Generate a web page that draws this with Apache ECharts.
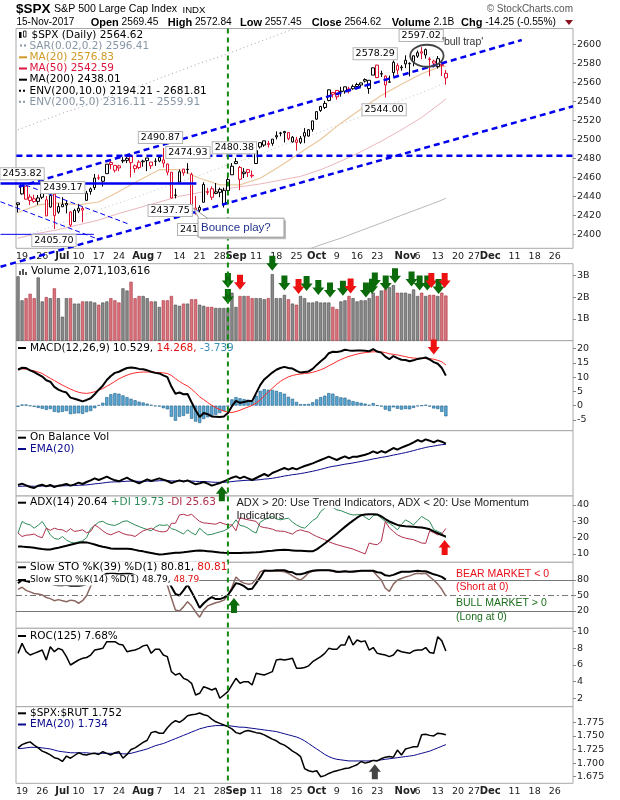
<!DOCTYPE html>
<html>
<head>
<meta charset="utf-8">
<script src="https://cdn.jsdelivr.net/npm/echarts@6/dist/echarts.min.js"></script>
<style>
html, body { margin: 0; padding: 0; background: #fff; }
#chart { width: 620px; height: 800px; }
</style>
</head>
<body>
<div id="chart"></div>
<script>
// trading days shown on the x axis (Jun 16 2017 .. Jan 2 2018)
var junDays = [16,19,20,21,22,23,26,27,28,29,30];
var julDays = [3,5,6,7,10,11,12,13,14,17,18,19,20,21,24,25,26,27,28,31];
var augDays = [1,2,3,4,7,8,9,10,11,14,15,16,17,18,21,22,23,24,25,28,29,30,31];
var sepDays = [1,5,6,7,8,11,12,13,14,15,18,19,20,21,22,25,26,27,28,29];
var octDays = [2,3,4,5,6,9,10,11,12,13,16,17,18,19,20,23,24,25,26,27,30,31];
var novDays = [1,2,3,6,7,8,9,10,13,14,15,16,17,20,21,22,24,27,28,29,30];
var decDays = [1,4,5,6,7,8,11,12,13,14,15,18,19,20,21,22,26,27,28,29];
var janDays = [2];

var tickDates = ['Jun 19','Jun 26','Jul 3','Jul 10','Jul 17','Jul 24','Aug 1','Aug 7','Aug 14','Aug 21','Aug 28','Sep 1','Sep 11','Sep 18','Sep 25','Oct 2','Oct 9','Oct 16','Oct 23','Nov 1','Nov 6','Nov 13','Nov 20','Nov 27','Dec 1','Dec 11','Dec 18','Dec 26'];
var tickTexts = ['19','26','Jul','10','17','24','Aug','7','14','21','28','Sep','11','18','25','Oct','9','16','23','Nov','6','13','20','27','Dec','11','18','26'];

// $SPX daily candles, Jun 16 .. Nov 15
var opens = [2431.24,2442.55,2450.66,2439.31,2437.40,2434.65,2443.32,2436.34,2428.70,2442.38,2429.20,2431.39,2430.78,2423.44,2413.52,2424.51,2427.35,2435.75,2444.99,2449.16,2459.50,2455.88,2463.85,2475.56,2467.40,2472.04,2477.88,2479.97,2482.76,2469.12,2475.94,2477.10,2480.38,2476.03,2476.88,2477.14,2478.35,2465.35,2465.38,2441.04,2454.96,2468.66,2468.63,2462.95,2427.64,2425.50,2433.75,2444.88,2447.91,2444.72,2447.35,2431.94,2446.06,2462.65,2474.42,2470.35,2463.83,2468.06,2462.25,2474.52,2491.94,2493.89,2494.56,2495.67,2502.51,2506.29,2506.84,2507.16,2497.26,2499.39,2501.04,2503.30,2503.41,2510.36,2521.20,2530.34,2533.48,2540.86,2547.44,2551.39,2549.99,2550.62,2553.03,2555.66,2555.57,2557.17,2562.87,2553.39,2567.56,2578.08,2568.66,2566.52,2560.08,2570.26,2577.75,2575.99,2583.21,2579.46,2581.93,2587.47,2592.11,2588.71,2584.00,2580.18,2576.53,2577.75,2569.45];
var highs = [2433.15,2453.82,2450.66,2442.23,2441.62,2441.40,2450.42,2440.15,2442.97,2442.73,2432.71,2439.17,2434.90,2424.28,2426.92,2432.00,2429.30,2445.76,2449.32,2463.54,2462.82,2460.92,2473.83,2477.62,2472.54,2473.10,2481.24,2481.69,2484.04,2473.53,2477.96,2478.51,2480.38,2476.03,2480.00,2480.95,2490.87,2474.41,2465.38,2448.09,2468.22,2468.90,2474.93,2465.02,2440.27,2430.58,2454.77,2448.91,2450.39,2453.96,2449.12,2449.19,2460.31,2475.01,2480.38,2471.97,2469.64,2468.62,2467.11,2488.95,2496.77,2498.37,2498.43,2500.23,2508.32,2507.84,2508.85,2507.16,2503.47,2502.54,2503.51,2511.75,2510.81,2519.44,2529.23,2535.13,2540.53,2552.51,2549.41,2551.82,2555.23,2555.24,2555.33,2557.65,2559.47,2559.71,2564.11,2562.36,2575.44,2578.29,2572.18,2567.40,2567.07,2582.98,2580.03,2578.03,2588.40,2581.11,2588.42,2593.38,2597.02,2595.47,2586.50,2583.81,2587.66,2579.66,2572.84];
var lows = [2422.88,2441.79,2436.60,2430.74,2433.27,2431.11,2437.03,2419.38,2428.02,2405.70,2421.65,2428.69,2422.05,2407.70,2413.52,2422.27,2412.79,2435.75,2441.69,2446.69,2457.16,2450.34,2463.85,2468.43,2465.06,2466.32,2474.91,2474.94,2459.93,2464.66,2468.53,2471.14,2466.48,2468.85,2472.08,2475.88,2470.32,2462.08,2437.75,2437.85,2454.96,2461.61,2463.86,2430.01,2420.69,2417.35,2433.67,2441.42,2436.19,2442.22,2439.03,2428.20,2443.77,2462.65,2473.85,2446.55,2459.20,2460.29,2459.40,2474.52,2490.37,2492.14,2491.35,2493.16,2499.92,2503.19,2496.67,2499.00,2496.54,2488.03,2495.12,2495.91,2502.93,2507.99,2520.40,2528.85,2531.80,2540.02,2543.79,2541.60,2544.86,2547.95,2548.31,2552.09,2552.64,2554.69,2559.67,2547.92,2567.56,2564.33,2565.58,2544.00,2559.80,2565.94,2568.25,2572.15,2574.92,2566.17,2576.77,2585.66,2584.35,2585.02,2566.33,2575.57,2574.48,2566.56,2557.45];
var closes = [2433.15,2453.46,2437.03,2435.61,2434.50,2438.30,2439.07,2419.38,2440.69,2419.70,2423.41,2429.01,2432.54,2409.75,2425.18,2427.43,2425.53,2443.25,2447.83,2459.27,2459.14,2460.61,2473.83,2473.45,2472.54,2469.91,2477.13,2477.83,2475.42,2472.10,2470.30,2476.35,2477.57,2472.16,2476.83,2480.91,2474.92,2474.02,2438.21,2441.32,2465.84,2464.61,2468.11,2430.01,2425.55,2428.37,2452.51,2444.04,2438.97,2443.05,2444.24,2446.30,2457.59,2471.65,2476.55,2457.85,2465.54,2465.10,2461.43,2488.11,2496.48,2498.37,2495.62,2500.23,2503.87,2506.65,2508.24,2500.60,2502.22,2496.66,2496.84,2507.04,2510.06,2519.36,2529.12,2534.58,2537.74,2552.07,2549.33,2544.73,2550.64,2555.24,2550.93,2553.17,2557.64,2559.36,2561.26,2562.10,2575.21,2564.98,2569.13,2557.15,2560.40,2581.07,2572.83,2575.26,2579.36,2579.85,2587.84,2591.13,2590.64,2594.38,2584.62,2582.30,2584.84,2578.87,2564.62];

// overlays, read every 5 sessions
var maSampleIdx = [0,5,10,15,20,25,30,35,40,45,50,55,60,65,70,75,80,85,90,95,100,105,106];
var ma20 = [2423,2431,2433,2431,2434,2445,2457,2468,2468,2459,2452,2452,2459,2472,2486,2500,2517,2532,2546,2558,2569,2577,2576.83];
var ma50 = [2396,2401,2405,2410,2415,2422,2428,2434,2440,2444,2447,2450,2453,2457,2461,2468,2477,2487,2498,2510,2523,2539,2542.59];
var ma200 = [2282,2289,2296,2303,2310,2317,2324,2331,2338,2345,2352,2359,2366,2374,2381,2389,2396,2404,2412,2420,2428,2436,2438.01];
var env10Upper = [2510,2518,2526,2533,2541,2549,2556,2564,2572,2580,2587,2595,2603,2611,2619,2628,2636,2644,2653,2662,2671,2680,2681.81];
var env5Upper = [2396,2403,2411,2418,2426,2433,2440,2448,2455,2462,2470,2477,2484,2493,2500,2508,2516,2524,2533,2541,2549,2558,2559.91];

// volume, billions of shares
var volumes = [2.95,1.85,1.95,2.15,1.95,2.9,1.8,2.0,1.95,2.4,1.95,1.1,1.95,1.95,1.7,1.7,1.8,1.8,1.8,1.75,1.65,1.75,1.8,1.95,1.85,1.75,2.4,2.3,2.7,1.95,2.05,2.05,1.95,1.8,1.8,1.55,1.85,1.85,2.05,1.65,1.6,1.7,1.7,1.9,1.9,1.65,1.6,1.55,1.55,1.5,1.5,1.5,1.5,2.2,1.55,2.05,2.05,2.05,1.95,1.95,1.95,1.9,1.95,3.05,1.95,1.95,2.1,1.9,1.7,1.65,2.05,1.95,1.75,1.75,1.8,1.75,1.75,1.75,1.55,1.45,1.8,1.85,2.05,1.95,1.8,1.85,1.85,1.95,2.2,2.05,2.3,2.35,2.45,2.55,2.2,2.2,2.2,2.15,2.35,2.05,2.2,2.05,2.1,2.1,2.05,2.2,2.07];

// MACD(12,26,9)
var macdLine = [12.6,13.3,13.2,12.4,11.8,11,10.2,8.9,8.4,6.6,5.6,5.0,4.6,2.8,2.4,2.0,1.5,2.0,2.6,4.0,5.6,7.0,9.0,10.4,11.5,11.9,12.6,13.2,13.4,13.2,12.9,12.8,12.4,11.9,11.5,11.3,10.6,10.0,6.7,4.2,4.6,4.0,4.1,1.2,-1.6,-4.0,-2.6,-3.0,-3.8,-3.9,-4.0,-3.8,-2.6,-0.2,1.7,1.0,1.3,1.6,1.6,4.4,7.2,9.2,10.4,11.6,12.6,13.2,13.6,13.2,13.0,12.2,11.6,11.8,12.0,12.9,14.3,15.6,16.7,18.4,18.9,18.8,19.1,19.6,19.4,19.3,19.4,19.4,19.3,19.1,19.8,19.0,18.6,17.2,16.3,17.4,16.7,16.1,16.0,15.6,15.9,16.4,16.6,16.9,16.2,15.3,14.7,13.2,10.53];
var macdSignal = [13.0,12.9,12.8,12.5,12.2,11.8,11.3,10.4,9.6,8.8,8.0,7.2,6.5,5.8,5.2,4.7,4.4,4.3,4.5,4.9,5.4,6.0,6.8,7.6,8.5,9.4,10.1,10.7,11.2,11.5,11.7,11.8,11.8,11.8,11.7,11.6,11.5,11.3,10.6,9.5,8.5,7.6,6.9,5.8,4.5,3.1,2.1,1.1,0.1,-0.7,-1.4,-1.9,-2.3,-2.4,-2.1,-1.6,-1.0,-0.5,0.1,0.9,2.0,3.4,4.8,6.1,7.4,8.5,9.4,10.1,10.6,10.9,11.1,11.3,11.4,11.7,12.1,12.6,13.2,14.0,14.7,15.5,16.2,16.8,17.3,17.7,18.1,18.4,18.6,18.8,18.9,18.9,18.9,18.6,18.2,18.0,17.8,17.5,17.2,16.9,16.7,16.6,16.6,16.6,16.5,16.3,15.9,15.4,14.27];
var macdHist = [-0.4,0.4,0.4,-0.1,-0.4,-0.8,-1.1,-1.5,-1.2,-2.2,-2.4,-2.2,-1.9,-3.0,-2.8,-2.7,-2.9,-2.3,-1.9,-0.9,0.2,1.0,3.0,4.0,4.4,4.2,3.6,3.0,2.4,1.9,1.4,1.1,0.7,0.3,-0.2,-0.3,-0.9,-1.3,-3.9,-5.3,-3.9,-3.6,-2.8,-4.6,-5.6,-6.1,-4.7,-4.1,-3.9,-3.2,-2.6,-1.9,-0.3,2.2,3.0,2.6,2.3,2.1,1.5,3.5,5.2,5.8,5.6,5.5,5.2,4.7,4.2,3.1,2.4,1.3,0.5,0.5,0.6,1.2,2.2,3.0,3.5,4.4,4.2,3.3,2.9,2.8,2.1,1.6,1.3,1.0,0.7,0.3,0.9,0.1,-0.3,-1.4,-1.9,-0.6,-1.1,-1.4,-1.2,-1.3,-0.8,-0.2,0.0,0.3,-0.3,-1.0,-1.2,-2.2,-3.74];

// On Balance Volume (relative units, unlabelled panel) and its EMA(20)
var obv = [33,37,32,27,24,31,34,29,33,27,31,33,36,31,35,40,36,42,47,53,48,53,58,52,47,44,50,55,48,43,38,44,50,45,49,53,49,45,39,43,47,43,47,41,35,38,42,37,31,35,39,44,49,55,59,53,58,53,48,54,60,66,60,69,74,79,84,79,84,80,85,90,94,98,103,108,113,118,113,108,114,119,113,118,118,121,124,128,134,129,135,130,137,144,139,145,150,155,161,168,163,170,166,161,167,163,157];
var obvEma = [29,29.5,29.8,29.6,29.2,29.4,29.9,29.8,30.1,29.8,30,30.4,31,31,31.4,32.2,32.5,33.4,34.7,36.4,37.5,39,40.8,41.9,42.4,42.6,43.3,44.4,44.7,44.5,43.9,43.9,44.5,44.6,45,45.8,46.1,46,45.3,45.1,45.3,45.1,45.3,44.9,44,43.6,43.4,42.8,41.7,41.1,40.9,41.2,41.9,43.2,44.7,45.5,46.7,47.3,47.4,48,49.1,50.7,51.6,53.2,55.2,57.5,60,61.8,63.9,65.4,67.3,69.5,71.8,74.3,77,80,83.2,86.5,89,90.8,93.1,95.5,97.2,99.2,101.5,103.7,106,108.5,111.3,113.3,115.9,117.7,120.1,122.9,125.1,127.7,130.3,133.1,136.2,139.7,142.6,145.7,148.1,149.8,152.2,154,155];

// ADX(14), +DI, -DI
var adx = [14.6,14.5,14.3,14.1,13.8,13.4,13.0,12.7,12.8,13.3,13.8,14.4,15.0,15.7,16.3,16.8,17.2,17.1,16.5,15.8,15.0,14.4,13.9,13.4,13.2,13.2,13.2,13.2,13.0,12.5,12.0,11.6,11.1,10.6,10.1,9.7,9.8,10.2,10.5,10.7,10.8,11.0,11.3,11.7,12.0,12.1,11.9,11.7,11.5,11.2,10.9,10.7,10.6,10.6,10.6,10.6,10.7,10.8,10.9,11.0,11.2,11.5,11.8,12.0,12.3,12.5,12.6,12.4,12.2,12.0,11.9,11.8,11.7,11.6,12.8,14.6,16.4,18.4,20.4,22.4,24.5,26.6,28.6,30.4,32.2,33.7,34.2,34.3,34.4,34.2,33.0,31.4,29.9,28.8,27.8,27.3,27.0,26.8,26.6,26.4,26.2,25.8,25.1,23.8,22.7,21.6,20.64];
var plusDI = [22.8,29.9,28.5,27.8,25.8,27.6,29.9,26,21.7,19.5,19,20.7,18.5,17.2,16.7,17.5,18,20,25.5,27.5,29.5,30,28.5,27.8,27.5,28.5,29.9,30.3,29,27.8,26.8,25.8,25,24.2,26.5,27.8,27.5,27.8,25.5,24.8,23.5,22.2,24.8,23,21.7,25.8,23.5,21.7,22,22.8,23.5,24.2,25.5,27.5,30.9,27.5,27,25.8,24,22.8,29.5,31,32,32.9,31.5,30.9,31.5,31.9,29.5,27.8,26.5,25.8,28,30.5,32,36,38,40,38.5,37,36.5,35.5,34.5,33.9,34,34.3,32.5,30.9,33.5,33.9,31.9,30,28.8,27,24.8,28,30.9,29.5,27.8,30.5,32.9,31.5,29.9,25,23.8,22.8,19.73];
var minusDI = [22.8,20.7,21.5,21.7,22.2,20.7,20,25.8,24.5,25.8,25,24.8,23.5,25.5,23.8,24.2,24.8,23,23.8,27.8,26.2,24.2,22.5,21.7,22.8,23.8,22.5,21.7,21.5,20.7,22.5,24.2,25,25.8,24.5,23.8,23.5,24.2,28.8,28.8,33.9,34.3,33.5,34.3,32,29.9,29,28.8,28.5,28.2,29.4,28.5,27.8,27.8,24.2,32.3,31.5,30.9,30.5,29.9,26.8,26.2,25.8,25.2,24.2,24,23.8,23,22.2,24,24.8,24,23.4,22,20.7,19.7,18.7,17.5,16.5,15.7,15,14.3,13.7,13,12,11,10,16.7,16,15.7,17.7,29.9,26,23.8,21.7,20.5,19.7,19.2,18.7,17.7,16.7,16.5,24.2,23,21.7,22.2,25.63];

// Slow stochastics
var sto39 = [74,80,78,76,75,76,76,73,73,71,70,70,71,69,69,69,70,72,76,82,87,88,92,94,93,91,92,93,92,89,86,86,88,88,88,90,86,82,67,53,50,60,71,57,42,26,35,42,47,43,43,46,51,62,74,72,68,62,63,74,85,98,98,98,99,99,99,96,95,91,91,93,96,98,99,99,99,99,98,96,96,97,96,96,97,98,98,98,98,95,94,89,88,90,93,96,96,96,97,98,97,97,94,91,89,86,80.81];
var sto14 = [62,66,60,57,54,53,51,46,44,40,42,40,38,41,40,35,40,50,68,80,86,88,94,95,93,90,92,93,88,84,80,82,85,82,84,87,80,70,45,22,20,28,38,30,18,8,22,30,33,36,38,41,50,66,86,78,74,72,73,82,96,99,98,98,97,97,96,93,88,83,80,86,94,97,98,99,99,99,97,95,96,97,96,97,98,98,98,98,97,88,80,64,58,72,80,83,86,88,91,93,92,93,86,80,72,62,48.79];

// ROC(125), %
var roc125 = [7.4,8.6,7.6,7.2,7.4,7.6,7.8,6.6,8.2,7.6,8.0,7.8,7.0,6.0,6.3,6.6,6.8,6.9,7.2,7.8,7.9,8.0,8.8,8.8,8.8,8.5,8.4,7.6,7.7,7.8,8.0,8.3,8.4,7.4,7.9,7.9,7.2,7.0,5.2,4.8,5.0,4.4,4.2,3.8,2.4,2.6,3.4,3.2,3.0,3.2,2.0,2.4,2.8,3.6,4.4,3.8,4.0,4.0,3.6,5.0,4.9,4.8,5.0,5.2,6.6,6.7,6.6,6.7,6.8,5.6,5.6,5.7,5.9,6.4,6.7,7.0,7.4,8.0,7.9,7.9,8.4,8.4,9.5,8.4,9.0,8.8,8.9,7.8,8.1,7.4,7.3,7.2,7.0,7.2,7.8,7.6,7.5,7.4,7.7,7.8,7.8,8.1,7.5,7.4,9.4,8.9,7.68];

// $SPX:$RUT ratio and EMA(20)
var spxRut = [1.728,1.734,1.737,1.739,1.733,1.728,1.722,1.719,1.715,1.710,1.708,1.703,1.713,1.709,1.714,1.719,1.716,1.715,1.717,1.718,1.716,1.721,1.718,1.715,1.719,1.721,1.709,1.716,1.725,1.728,1.733,1.738,1.742,1.756,1.758,1.755,1.755,1.765,1.773,1.778,1.775,1.780,1.787,1.789,1.790,1.792,1.789,1.787,1.781,1.776,1.773,1.770,1.767,1.763,1.756,1.754,1.758,1.760,1.758,1.756,1.755,1.752,1.748,1.744,1.741,1.736,1.733,1.728,1.722,1.718,1.712,1.690,1.686,1.684,1.686,1.675,1.677,1.681,1.684,1.686,1.688,1.690,1.691,1.694,1.697,1.703,1.700,1.702,1.705,1.704,1.708,1.711,1.712,1.711,1.724,1.715,1.726,1.728,1.730,1.730,1.752,1.753,1.751,1.750,1.755,1.754,1.752];
var spxRutEma = [1.727,1.727,1.728,1.729,1.729,1.729,1.728,1.727,1.726,1.724,1.722,1.721,1.720,1.719,1.719,1.719,1.719,1.719,1.718,1.718,1.718,1.718,1.718,1.718,1.718,1.718,1.717,1.717,1.718,1.720,1.722,1.724,1.726,1.729,1.732,1.734,1.736,1.739,1.742,1.745,1.748,1.751,1.754,1.757,1.760,1.763,1.765,1.767,1.768,1.769,1.769,1.769,1.769,1.768,1.767,1.766,1.766,1.765,1.764,1.763,1.762,1.761,1.760,1.759,1.758,1.756,1.754,1.752,1.750,1.748,1.745,1.741,1.736,1.731,1.726,1.721,1.716,1.712,1.709,1.707,1.706,1.705,1.704,1.704,1.704,1.704,1.704,1.704,1.705,1.705,1.706,1.707,1.708,1.709,1.710,1.711,1.712,1.713,1.714,1.716,1.718,1.720,1.722,1.725,1.728,1.731,1.734];

// annotations drawn on the chart (session index, value)
var priceNotes = [[1,2463.7,'2453.82'],[11.1,2449.3,'2439.17'],[8.9,2393.5,'2405.70'],[35.3,2501.9,'2490.87'],[42.1,2486.1,'2474.93'],[37.7,2425.1,'2437.75'],[45,2405.1,'2417.35'],[53.6,2491,'2480.38'],[88.5,2590,'2578.29'],[90.7,2531.2,'2544.00'],[99.9,2609.3,'2597.02']];
var upperChannel = [[0.2,2450.1],[124.8,2604.5]];
var lowerChannel = [[-4.33,2365.9],[137.5,2534.7]];
var resistance = [[-0.4,2482.7],[137.5,2482.7]];
var juneHigh = [[-4.33,2453.5],[44.2,2453.5]];
var lowLine = [[-4.33,2400],[18.8,2400]];
var downLineA = [[1.86,2451.9],[27.4,2410.8]];
var downLineB = [[-4.33,2434.3],[20.4,2394]];
var bullTrap = [101.3,2587.9];
var bounceAnchor = [44.6,2417];
var signalDay = 52;
var volArrowsDown = [[52,2.76,'g'],[52,2.03,'g'],[55,2.68,'r'],[63,3.55,'g'],[66,2.64,'g'],[69.5,2.49,'r'],[71.5,2.62,'g'],[74.4,2.44,'g'],[77.3,2.33,'g'],[80.5,2.41,'g'],[82.4,2.51,'r'],[86.2,2.33,'g'],[87.7,2.5,'g'],[88.4,2.78,'g'],[91.1,2.64,'g'],[93.4,2.98,'g'],[97.5,2.83,'g'],[99.5,2.64,'g'],[101.4,2.64,'g'],[102.4,2.76,'r'],[104.2,2.49,'g'],[105.7,2.76,'r']];

var categories = [];
function addMonth(name, days) {
	days.forEach(function (d) { categories.push(name + ' ' + d); });
}
addMonth('Jun', junDays); addMonth('Jul', julDays); addMonth('Aug', augDays);
addMonth('Sep', sepDays); addMonth('Oct', octDays); addMonth('Nov', novDays);
addMonth('Dec', decDays); addMonth('Jan', janDays);

var RED = '#e0102f', GREEN = '#0b6b0b', NAVY = '#0a0a8c', BLUE = '#0000ee';
var AXFONT = 'DejaVu Sans';
var LEFT = 16, RIGHT = 47;
var panelTop = [28.5, 263.7, 340.7, 430.7, 496, 562.3, 628.3, 706.7];
var panelHeight = [219.8, 77, 90, 65.3, 66.3, 66, 78.4, 76.6];
var yMin = [2385.3, 0, -8.8, 0, 4.9, -13.5, 0.99, 1.6629];
var yMax = [2616.6, 3.53, 22.8, 196, 45.5, 114.3, 10.41, 1.8037];
var yTicks = [[2400,2420,2440,2460,2480,2500,2520,2540,2560,2580,2600],[1,2,3],[-5,0,5,10,15,20],[],[10,20,30,40],[20,50,80],[2,4,6,8,10],[1.675,1.7,1.725,1.75,1.775]];

function pairs(idx, vals) {
	return idx.map(function (d, k) { return [d, vals[k]]; });
}

var grids = [], xAxes = [], yAxes = [];
for (var g = 0; g < 8; g++) {
	grids.push({left: LEFT, right: RIGHT, top: panelTop[g], height: panelHeight[g], show: true,
		borderColor: '#a8a8a8', borderWidth: 1, backgroundColor: '#fff', outerBoundsMode: 'none', containLabel: false});
	var showX = (g === 0 || g === 7);
	xAxes.push({
		type: 'category', gridIndex: g, data: categories, boundaryGap: true,
		axisLine: {show: false}, axisTick: {show: false}, splitLine: {show: false},
		axisLabel: {
			show: showX, margin: 3, fontSize: 9.5, fontFamily: AXFONT, color: '#222',
			interval: function (index, value) { return tickDates.indexOf(value) >= 0; },
			formatter: function (value) {
				var t = tickTexts[tickDates.indexOf(value)];
				return isNaN(+t) ? '{m|' + t + '}' : t;
			},
			rich: {m: {fontWeight: 'bold', fontSize: 10, fontFamily: AXFONT, color: '#222'}}
		}
	});
	(function (gi) {
		yAxes.push({
			type: 'value', gridIndex: gi, position: 'right', min: yMin[gi], max: yMax[gi],
			splitLine: {show: false}, axisLine: {show: false},
			axisTick: {show: yTicks[gi].length > 0, length: 3, lineStyle: {color: '#888'}, customValues: yTicks[gi]},
			axisLabel: {
				show: yTicks[gi].length > 0, customValues: yTicks[gi], margin: 4,
				fontSize: 9.5, fontFamily: AXFONT, color: '#222',
				formatter: function (v) {
					if (gi === 1) return v + 'B';
					if (gi === 7) return v.toFixed(3);
					return String(v);
				}
			}
		});
	})(g);
}

var candleData = opens.map(function (o, i) {
	var col = (i > 0 && closes[i] < closes[i - 1]) ? RED : '#000';
	return {value: [o, closes[i], lows[i], highs[i]],
		itemStyle: {color: '#fff', color0: col, borderColor: col, borderColor0: col}};
});
var volData = volumes.map(function (v, i) {
	var down = (i > 0 && closes[i] < closes[i - 1]);
	return {value: v, itemStyle: {color: down ? '#d9737c' : '#8a8a8a', borderColor: down ? '#a8333f' : '#4a4a4a', borderWidth: 0.6}};
});

function line(g, data, color, width, type, z) {
	return {type: 'line', xAxisIndex: g, yAxisIndex: g, data: data, showSymbol: false, symbol: 'none',
		silent: true, animation: false, z: z || 3,
		lineStyle: {color: color, width: width, type: type || 'solid'}};
}

var series = [
	line(0, pairs(maSampleIdx, env10Upper), '#a0a0a0', 1, [1, 3]),
	line(0, pairs(maSampleIdx, env5Upper), '#c4c4c4', 1, [1, 3]),
	line(0, pairs(maSampleIdx, ma200), '#b8b8b8', 1),
	line(0, pairs(maSampleIdx, ma50), '#ecb6bc', 1),
	line(0, pairs(maSampleIdx, ma20), '#eac79c', 1.2),
	{type: 'candlestick', xAxisIndex: 0, yAxisIndex: 0, data: candleData, barWidth: 3, silent: true, animation: false, z: 5,
		itemStyle: {borderWidth: 1}},
	{type: 'bar', xAxisIndex: 1, yAxisIndex: 1, data: volData, barWidth: 3.2, silent: true, animation: false},
	{type: 'bar', xAxisIndex: 2, yAxisIndex: 2, data: macdHist, barWidth: 3.2, silent: true, animation: false,
		itemStyle: {color: '#5aa7d2', borderColor: '#1f5f8a', borderWidth: 0.6}},
	line(2, macdSignal, '#ff2a2a', 1),
	line(2, macdLine, '#000', 2, null, 4),
	line(3, obvEma, NAVY, 1),
	line(3, obv, '#000', 2, null, 4),
	line(4, plusDI, '#2e8b57', 1),
	line(4, minusDI, '#b0304c', 1),
	line(4, adx, '#000', 2, null, 4),
	line(5, sto14, '#8c6660', 1.5),
	line(5, sto39, '#000', 2, null, 4),
	line(6, roc125, '#000', 1.5),
	line(7, spxRutEma, NAVY, 1),
	line(7, spxRut, '#000', 1.5, null, 4)
];
// stochastic reference lines
series[16].markLine = {silent: true, symbol: 'none', label: {show: false}, animation: false,
	data: [
		{yAxis: 80, lineStyle: {color: '#777', width: 1, type: 'solid'}},
		{yAxis: 50, lineStyle: {color: '#777', width: 1, type: [6, 3, 2, 3]}},
		{yAxis: 20, lineStyle: {color: '#777', width: 1, type: 'solid'}}
	]};

var chart = echarts.init(document.getElementById('chart'));
chart.setOption({
	animation: false,
	backgroundColor: '#fff',
	grid: grids, xAxis: xAxes, yAxis: yAxes, series: series
});

// ---------- overlay drawing (annotations, legends, header) ----------
function px(g, idx, val) {
	var a = chart.convertToPixel({gridIndex: g}, [0, val]);
	var b = chart.convertToPixel({gridIndex: g}, [10, val]);
	return [a[0] + (b[0] - a[0]) * idx / 10, a[1]];
}
function T(x, y, text, font, fill, extra) {
	var s = {text: text, x: x, y: y, font: font, fill: fill || '#000',
		align: 'left', textAlign: 'left', verticalAlign: 'middle', textVerticalAlign: 'middle'};
	if (extra) for (var k in extra) s[k] = extra[k];
	return {type: 'text', style: s, z: 100, silent: true};
}
function seg(p, q, color, width, dash, z) {
	return {type: 'line', shape: {x1: p[0], y1: p[1], x2: q[0], y2: q[1]}, silent: true, z: z || 60,
		style: {stroke: color, lineWidth: width, lineDash: dash || null}};
}
function trend(g, pts, color, width, dash) {
	return seg(px(g, pts[0][0], pts[0][1]), px(g, pts[1][0], pts[1][1]), color, width, dash);
}
function arrow(c, up, color) {
	var x = c[0], y = c[1], pts;
	if (up) pts = [[x, y - 7.5], [x + 6, y], [x + 3, y], [x + 3, y + 7.5], [x - 3, y + 7.5], [x - 3, y], [x - 6, y]];
	else pts = [[x - 3, y - 7.5], [x + 3, y - 7.5], [x + 3, y], [x + 6, y], [x, y + 7.5], [x - 6, y], [x - 3, y]];
	return {type: 'polygon', shape: {points: pts}, style: {fill: color}, z: 70, silent: true};
}
function legendLine(x, y, color, dash) {
	return seg([x, y], [x + 8, y], color, 2, dash, 101);
}

var el = [];
var LF = '10.5px "DejaVu Sans"';
var HF = '"Liberation Sans"';

// header
el.push(T(16, 9, '$SPX', 'bold 13.5px ' + HF));
el.push(T(54, 9.5, 'S&P 500 Large Cap Index', '10.6px ' + HF));
el.push(T(182.5, 10, 'INDX', '9.6px ' + HF));
el.push(T(573, 9, '\u00a9 StockCharts.com', '10px ' + HF, '#555', {align: 'right', textAlign: 'right'}));
el.push(T(16.5, 22.5, '15-Nov-2017', '10px ' + HF));
var hdr = [[90.7, 'Open', '2569.45'], [167.7, 'High', '2572.84'], [240, 'Low', '2557.45'], [311.7, 'Close', '2564.62'], [391.7, 'Volume', '2.1B'], [461, 'Chg', '-14.25 (-0.55%)']];
hdr.forEach(function (h) {
	el.push(T(h[0], 22.5, '{b|' + h[1] + '} {v|' + h[2] + '}', '10px ' + HF, '#000',
		{rich: {b: {font: 'bold 11px ' + HF, fill: '#000'}, v: {font: '10.2px ' + HF, fill: '#000'}}}));
});
el.push({type: 'polygon', shape: {points: [[565, 20], [573, 20], [569, 25]]}, style: {fill: '#8b1020'}, z: 100, silent: true});

// price annotations
el.push(trend(0, resistance, BLUE, 2.5, [6, 4]));
el.push(trend(0, upperChannel, BLUE, 2.5, [6, 4]));
el.push(trend(0, lowerChannel, BLUE, 2.5, [6, 4]));
el.push(trend(0, juneHigh, BLUE, 2.5));
el.push(trend(0, lowLine, BLUE, 1));
el.push(trend(0, downLineA, BLUE, 1, [5, 3]));
el.push(trend(0, downLineB, BLUE, 1, [5, 3]));
priceNotes.forEach(function (n) {
	var p = px(0, n[0], n[1]);
	el.push(T(p[0], p[1], n[2], '9.5px "DejaVu Sans"', '#000',
		{align: 'center', textAlign: 'center', backgroundColor: '#fff', borderColor: '#b4b4b4', borderWidth: 1, padding: [1, 2, 0, 2]}));
});
var bt = px(0, bullTrap[0], bullTrap[1]);
el.push({type: 'ellipse', shape: {cx: bt[0], cy: bt[1], rx: 16.7, ry: 11}, style: {fill: null, stroke: '#444', lineWidth: 1.8}, z: 80, silent: true});
el.push(T(bt[0] + 15, bt[1] - 14, "'bull trap'", '10.5px ' + HF, '#333'));
var ba = px(0, bounceAnchor[0], bounceAnchor[1]);
el.push({type: 'rect', shape: {x: ba[0] + 2, y: ba[1] + 2, width: 86, height: 19}, style: {fill: '#bdbdbd'}, z: 110, silent: true});
el.push({type: 'rect', shape: {x: ba[0], y: ba[1], width: 86, height: 19}, style: {fill: '#fff', stroke: '#999', lineWidth: 1}, z: 111, silent: true});
el.push({type: 'polygon', shape: {points: [[ba[0] + 1, ba[1] + 0.5], [ba[0] - 4.5, ba[1] - 10], [ba[0] + 10, ba[1] + 0.5]]}, style: {fill: '#fff', stroke: '#999', lineWidth: 1}, z: 111, silent: true});
el.push({type: 'rect', shape: {x: ba[0] + 0.6, y: ba[1] + 0.6, width: 9, height: 2}, style: {fill: '#fff'}, z: 112, silent: true});
var bp = T(ba[0] + 3, ba[1] + 10, 'Bounce play?', '11.5px ' + HF, '#22338c');
bp.z = 113;
el.push(bp);

// vertical signal line across all panels
var vx = px(0, signalDay, 2500)[0];
el.push(seg([vx, panelTop[0]], [vx, panelTop[7] + panelHeight[7]], '#118811', 2, [5, 4], 90));

// arrows
volArrowsDown.forEach(function (a) {
	el.push(arrow(px(1, a[0], a[1]), false, a[2] === 'r' ? '#ee1111' : GREEN));
});
el.push(arrow(px(2, 103, 20.6), false, '#ee1111'));
el.push(arrow(px(3, 50.5, 7), true, GREEN));
el.push(arrow(px(4, 105.7, 14), true, '#ee1111'));
el.push(arrow(px(5, 53.5, 30.6), true, GREEN));
el.push(arrow(px(7, 88.4, 1.684), true, '#444'));

// legends
el.push({type: 'rect', shape: {x: 19, y: 32, width: 2.5, height: 6}, style: {fill: '#000'}, z: 101, silent: true});
el.push({type: 'rect', shape: {x: 23.5, y: 31, width: 2.5, height: 6}, style: {fill: '#fff', stroke: '#000', lineWidth: 0.8}, z: 101, silent: true});
el.push(T(31.5, 35, '$SPX (Daily) 2564.62', LF));
el.push({type: 'rect', shape: {x: 20, y: 44.5, width: 2, height: 2}, style: {fill: '#8796a5'}, z: 101, silent: true});
el.push({type: 'rect', shape: {x: 24, y: 44.5, width: 2, height: 2}, style: {fill: '#8796a5'}, z: 101, silent: true});
el.push(T(29.5, 46, 'SAR(0.02,0.2) 2596.41', LF, '#8796a5'));
el.push(legendLine(19, 57.3, '#d09a26'));
el.push(T(29.5, 57.3, 'MA(20) 2576.83', LF, '#d09a26'));
el.push(legendLine(19, 68.5, '#dc143c'));
el.push(T(29.5, 68.5, 'MA(50) 2542.59', LF, '#dc143c'));
el.push(legendLine(19, 79.7, '#000'));
el.push(T(29.5, 79.7, 'MA(200) 2438.01', LF));
el.push(legendLine(19, 90.8, '#000', [2, 2]));
el.push(T(29.5, 90.8, 'ENV(200,10.0) 2194.21 - 2681.81', LF));
el.push(legendLine(19, 101.8, '#8796a5', [2, 2]));
el.push(T(29.5, 101.8, 'ENV(200,5.0) 2316.11 - 2559.91', LF, '#8796a5'));

[[19, 4], [22, 6], [25, 3]].forEach(function (b) {
	el.push({type: 'rect', shape: {x: b[0], y: 275 - b[1], width: 2, height: b[1]}, style: {fill: '#555'}, z: 101, silent: true});
});
el.push(T(31, 271.3, 'Volume 2,071,103,616', LF));

el.push(legendLine(18, 348, '#000'));
el.push(T(30, 348, '{a|MACD(12,26,9) 10.529,} {r|14.268,} {c|-3.739}', LF, '#000',
	{rich: {a: {fill: '#000', font: LF}, r: {fill: '#e01010', font: LF}, c: {fill: '#3a8fb7', font: LF}}}));

el.push(legendLine(18, 437.7, '#000'));
el.push(T(30, 437.7, 'On Balance Vol', LF));
el.push(legendLine(18, 449, NAVY));
el.push(T(30, 449, 'EMA(20)', LF, NAVY));

el.push(legendLine(18, 502.7, '#000'));
el.push(T(30, 502.7, '{a|ADX(14) 20.64} {g|+DI 19.73} {r|-DI 25.63}', LF, '#000',
	{rich: {a: {fill: '#000', font: LF}, g: {fill: '#2e8b57', font: LF}, r: {fill: '#b0304c', font: LF}}}));
el.push(T(236.5, 502.7, 'ADX > 20: Use Trend Indicators, ADX < 20: Use Momentum', '11px ' + HF, '#222', {backgroundColor: '#fff'}));
el.push(T(236.5, 515.5, 'Indicators', '11px ' + HF, '#222'));

el.push(legendLine(18, 567.3, '#000'));
el.push(T(30, 567.3, '{a|Slow STO %K(39) %D(1) 80.81,} {r|80.81}', LF, '#000',
	{backgroundColor: '#fff', rich: {a: {fill: '#000', font: LF}, r: {fill: '#e01010', font: LF}}}));
el.push(legendLine(18, 580, '#000'));
var SF = '9px "DejaVu Sans"';
el.push(T(30, 580, '{a|Slow STO %K(14) %D(1) 48.79,} {r|48.79}', SF, '#000',
	{backgroundColor: '#fff', padding: [1, 0, 1, 0], rich: {a: {fill: '#000', font: SF}, r: {fill: '#e01010', font: SF}}}));
el.push(T(456, 574, 'BEAR MARKET < 0', '10.5px ' + HF, '#e8101a'));
el.push(T(456, 587, '(Short at 0)', '10.5px ' + HF, '#e8101a'));
el.push(T(456, 603.3, 'BULL MARKET > 0', '10.5px ' + HF, '#1a6e1a'));
el.push(T(456, 617.3, '(Long at 0)', '10.5px ' + HF, '#1a6e1a'));

el.push(legendLine(18, 636, '#000'));
el.push(T(30, 636, 'ROC(125) 7.68%', LF));

el.push(legendLine(18, 713.3, '#000'));
el.push(T(30, 713.3, '$SPX:$RUT 1.752', LF));
el.push(legendLine(18, 724.5, NAVY));
el.push(T(30, 724.5, 'EMA(20) 1.734', LF, NAVY));

chart.setOption({graphic: {elements: el}});
</script>
</body>
</html>
